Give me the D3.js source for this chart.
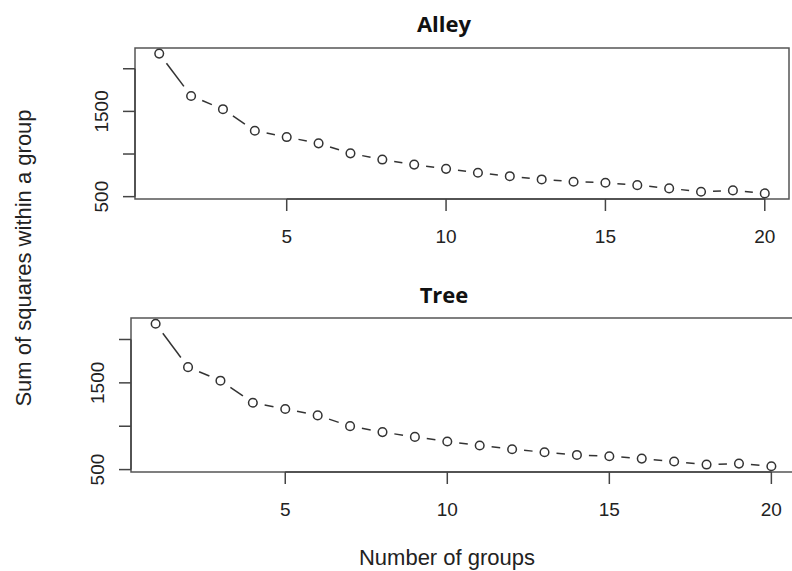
<!DOCTYPE html>
<html>
<head>
<meta charset="utf-8">
<script src="https://cdn.jsdelivr.net/npm/d3@7"></script>
<style>
    html, body { margin: 0; padding: 0; background: #ffffff; }
    svg { display: block; }
    .tick-label { font-family: "Liberation Sans", Arial, sans-serif; font-size: 19px; fill: #222; }
    .axis-title { font-family: "Liberation Sans", Arial, sans-serif; font-size: 22px; fill: #222; }
    .panel-title { font-family: "Open Sans", "Liberation Sans", sans-serif; font-size: 22px; font-weight: 700; fill: #111; }
</style>
</head>
<body>
<svg id="chart"></svg>
<script>
    // Elbow curves: within-group sum of squares by number of groups
    const groups = [1, 2, 3, 4, 5, 6, 7, 8, 9, 10, 11, 12, 13, 14, 15, 16, 17, 18, 19, 20];
    const alleyWSS = [2178, 1681, 1526, 1273, 1199, 1125, 1008, 935, 876, 826, 780, 740, 702, 675, 663, 635, 597, 558, 573, 538];
    const treeWSS = [2182, 1681, 1525, 1271, 1198, 1125, 1001, 932, 877, 824, 778, 735, 700, 669, 654, 627, 593, 558, 569, 538];
    const panelTitles = ['Alley', 'Tree'];
    const xTicks = [5, 10, 15, 20];
    const yTicks = [500, 1000, 1500, 2000];
    const yTickLabels = ['500', '', '1500', ''];

    const width = 792, height = 571;

    const svg = d3.select('#chart')
        .attr('width', width)
        .attr('height', height);

    // R style axis padding (4% each side)
    function padExtent(ext) {
        const d = (ext[1] - ext[0]) * 0.04;
        return [ext[0] - d, ext[1] + d];
    }

    const panels = [
        { title: panelTitles[0], values: alleyWSS, left: 135, right: 789, top: 48, bottom: 199, titleX: 444, titleY: 32 },
        { title: panelTitles[1], values: treeWSS, left: 131, right: 796, top: 318, bottom: 472, titleX: 444, titleY: 303 }
    ];

    panels.forEach(p => drawPanel(p));

    function drawPanel(p) {
        const data = groups.map((g, i) => ({ k: g, v: p.values[i] }));

        const x = d3.scaleLinear()
            .domain(padExtent(d3.extent(groups)))
            .range([p.left, p.right]);

        const y = d3.scaleLinear()
            .domain(padExtent(d3.extent(p.values)))
            .range([p.bottom, p.top]);

        const g = svg.append('g');

        // Box
        g.append('rect')
            .attr('x', p.left)
            .attr('y', p.top)
            .attr('width', p.right - p.left)
            .attr('height', p.bottom - p.top)
            .attr('fill', 'none')
            .attr('stroke', '#555')
            .attr('stroke-width', 1.5);

        // Y axis (drawn by hand to mimic base R)
        g.append('line')
            .attr('x1', p.left).attr('x2', p.left)
            .attr('y1', y(yTicks[0])).attr('y2', y(yTicks[yTicks.length - 1]))
            .attr('stroke', '#444').attr('stroke-width', 1.5);

        g.selectAll('.ytick')
            .data(yTicks)
            .enter()
            .append('line')
            .attr('x1', p.left - 12).attr('x2', p.left)
            .attr('y1', d => y(d)).attr('y2', d => y(d))
            .attr('stroke', '#444').attr('stroke-width', 1.5);

        g.selectAll('.ylab')
            .data(yTicks)
            .enter()
            .append('text')
            .attr('class', 'tick-label')
            .attr('text-anchor', 'middle')
            .attr('transform', d => `translate(${p.left - 27}, ${y(d)}) rotate(-90)`)
            .text((d, i) => yTickLabels[i]);

        // X axis
        g.append('line')
            .attr('x1', x(xTicks[0])).attr('x2', x(xTicks[xTicks.length - 1]))
            .attr('y1', p.bottom).attr('y2', p.bottom)
            .attr('stroke', '#444').attr('stroke-width', 1.5);

        g.selectAll('.xtick')
            .data(xTicks)
            .enter()
            .append('line')
            .attr('x1', d => x(d)).attr('x2', d => x(d))
            .attr('y1', p.bottom).attr('y2', p.bottom + 12)
            .attr('stroke', '#444').attr('stroke-width', 1.5);

        g.selectAll('.xlab')
            .data(xTicks)
            .enter()
            .append('text')
            .attr('class', 'tick-label')
            .attr('text-anchor', 'middle')
            .attr('x', d => x(d))
            .attr('y', p.bottom + 44)
            .text(d => d);

        // Segments between points, with gaps around the markers (type = "b")
        const gap = 12;
        const segs = d3.pairs(data).map(([a, b]) => {
            const x1 = x(a.k), y1 = y(a.v), x2 = x(b.k), y2 = y(b.v);
            const len = Math.hypot(x2 - x1, y2 - y1);
            const ux = (x2 - x1) / len, uy = (y2 - y1) / len;
            return { x1: x1 + ux * gap, y1: y1 + uy * gap, x2: x2 - ux * gap, y2: y2 - uy * gap, ok: len > 2 * gap };
        }).filter(s => s.ok);

        g.selectAll('.seg')
            .data(segs)
            .enter()
            .append('line')
            .attr('x1', d => d.x1).attr('y1', d => d.y1)
            .attr('x2', d => d.x2).attr('y2', d => d.y2)
            .attr('stroke', '#333')
            .attr('stroke-width', 1.5);

        // Points
        g.selectAll('.pt')
            .data(data)
            .enter()
            .append('circle')
            .attr('cx', d => x(d.k))
            .attr('cy', d => y(d.v))
            .attr('r', 4.3)
            .attr('fill', 'none')
            .attr('stroke', '#333')
            .attr('stroke-width', 1.5);

        // Title
        g.append('text')
            .attr('class', 'panel-title')
            .attr('text-anchor', 'middle')
            .attr('x', p.titleX)
            .attr('y', p.titleY)
            .text(p.title);
    }

    // Shared axis titles
    svg.append('text')
        .attr('class', 'axis-title')
        .attr('text-anchor', 'middle')
        .attr('x', 447)
        .attr('y', 565)
        .text('Number of groups');

    svg.append('text')
        .attr('class', 'axis-title')
        .attr('text-anchor', 'middle')
        .attr('transform', 'translate(31, 258) rotate(-90)')
        .text('Sum of squares within a group');
</script>
</body>
</html>
